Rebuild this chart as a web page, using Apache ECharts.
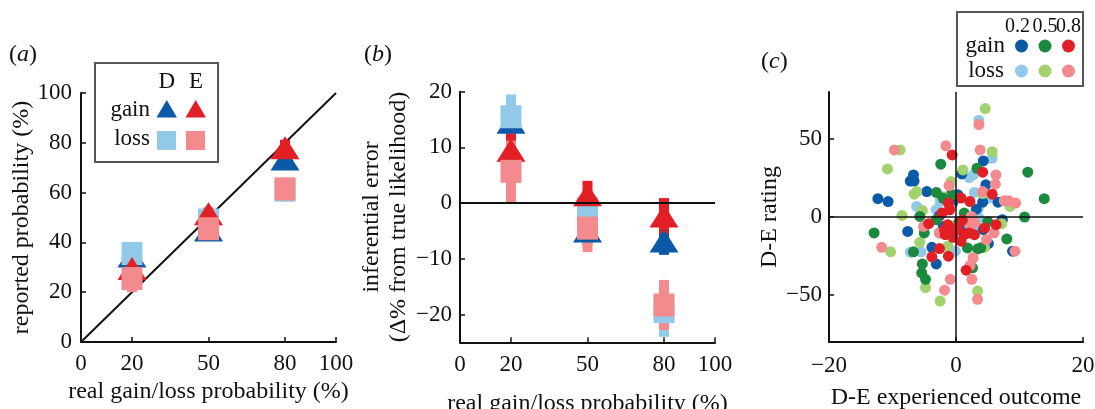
<!DOCTYPE html>
<html><head><meta charset="utf-8">
<script src="https://cdn.jsdelivr.net/npm/echarts@6/dist/echarts.min.js"></script>
<style>html,body{margin:0;padding:0;background:#fff}#c{width:1095px;height:409px}</style>
</head><body><div id="c"></div>
<script>
// ---------- data ----------
const probs = [20, 50, 80];
// panel (a): reported probability (%)
const aDGain = [34.5, 45, 73.5];
const aDLoss = [35.5, 49, 61];
const aEGain = [29.5, 51.5, 78];
const aELoss = [25.5, 45.5, 61.5];
// panel (b): inferential error (%)
const bDGain = [14.5, -5, -6.8];
const bDLoss = [15.5, -1, -19.5];
const bEGain = [9.5, 1.5, -2.3];
const bELoss = [5.7, -4.5, -18.3];
// error half-widths
const eDGain = [3, 2.5, 2.5];
const eDLoss = [4, 3, 4.5];
const eEGain = [3, 2.5, 3.2];
const eELoss = [5.5, 4.3, 4.5];
const probTicks = [0, 20, 50, 80, 100];
const errTicks = [-20, -10, 0, 10, 20];
const ratingTicks = [-50, 0, 50];
const identityLine = [[0, 0], [100, 100]];
// panel (c): [D-E experienced outcome, D-E rating]
const gain02 = [[-12.3,11.7],[-10.7,9.9],[-7.6,-9.2],[-6.7,26.9],[-7.2,23],[-6.6,23],[-4.6,16.3],[-3.8,-19.4],[-3.1,-30],[-0.8,14.2],[0.9,27.6],[4.3,35.9],[4.7,20.6],[6.6,9.5],[4.2,9.5],[7.3,-1.7],[4.3,-8.1],[5.1,-17],[8.9,-21.9],[-0.5,9.3],[-2.6,0.8],[0.3,14.2],[3.2,5],[-2,-6],[1.5,-6]];
const gain05 = [[-12.9,-10.2],[-5.7,0.4],[-5,-10.2],[-5.3,-30],[-5.4,-35.7],[-4.8,-39.9],[-2.4,33.8],[-3.1,15.7],[-3.1,-1.7],[-2.6,-10.2],[3.3,31.2],[11.3,28.7],[13.9,11.7],[10.8,0],[8,-14],[3.4,-20.4],[3.9,-19.7],[2.6,-32.5],[1.8,-19.8],[1.3,2.5],[-0.5,14.2],[-6.7,-22.3],[-2,12],[0.5,-3],[5,-3]];
const gain08 = [[-0.6,39.7],[4.2,28.7],[5.7,14.6],[0.8,12.1],[2.2,9.9],[-1.2,8.9],[-2.2,2.5],[-1,4.6],[-4.3,-4.3],[-1.3,-4.9],[-1.7,-11.3],[-0.6,-9.2],[0.3,-8.1],[1.3,-11.3],[2.1,-10.2],[2.9,-11.3],[0.8,-15.5],[0.1,-7],[4.5,-7],[6.3,-4.9],[-2.6,-20.2],[-3.8,-25.5],[-1.2,-25.1],[1.6,-34],[-1.8,-8],[1,-2],[-0.5,-13]];
const loss02 = [[3.6,62],[5.7,37.6],[2.1,25.2],[2.7,26.9],[2.9,15.7],[-6.2,6.8],[-3.1,4.7],[3.6,-0.6],[3.1,-4.9],[-7.2,-22.5],[-5.5,-22.3],[-0.1,-21.9],[-1,8],[3.5,5],[8.5,9],[5,12],[-2.5,10],[1.5,-1]];
const loss05 = [[4.6,69.4],[-8.8,42.9],[-10.8,30.8],[5.7,41.8],[1.1,30.1],[-6.6,14.6],[-6.2,16.3],[-5.3,4.2],[-8.5,1],[-0.8,22.7],[-5.7,-16.2],[-10.3,-22.3],[-4.8,-45.2],[-2.5,-53.8],[3.4,-47.4],[7.2,-4.3],[8.5,6.8],[-1.3,-18.7],[4.5,-19.5],[4.2,15],[-2,13],[0,-5]];
const loss08 = [[-9.7,42.9],[-1.6,45.6],[3.8,42.9],[3.6,59.2],[6.3,26.9],[6.2,21],[-1.1,20.1],[4.2,16.3],[7.6,10.4],[8.3,10.4],[9.4,8.9],[-5.1,-6],[-11.7,-19.4],[-2.6,-10.2],[2.4,0.4],[2.1,-4.9],[2.9,-3.8],[6,-10.2],[4.8,-14.5],[2.7,-26.1],[2.2,-31],[2.5,-39.9],[-0.9,-39.9],[-1.8,-46.8],[3.4,-52.7],[9.3,-21.9],[-1,6]];

// ---------- style ----------
const C = {dBlue:'#0b5aa8', red:'#e31f26', lBlue:'#92c8e8', pink:'#f28a8e', dGreen:'#1b8a3e', lGreen:'#a2d26e'};
const FONT = 'Liberation Serif';
const FS = 23, NFS = 24;
const minus = v => String(v).replace('-', '\u2212');
const axisLine = {show:true, onZero:false, lineStyle:{color:'#111', width:2}};
const axisTick = {show:true, inside:true, length:5, lineStyle:{color:'#111', width:1.5}};
const lbl = (m, extra) => Object.assign({color:'#111', fontFamily:FONT, fontSize:FS, margin:m, formatter:minus}, extra||{});
const nameStyle = {color:'#111', fontFamily:FONT, fontSize:NFS};

function errSeries(xi, xs, vals, errs, color, w) {
  return {
    type:'custom', xAxisIndex:xi, yAxisIndex:xi, silent:true,
    data: xs.map((x,i)=>[x, vals[i], errs[i]]),
    renderItem:(p, api)=>{
      const x=api.value(0), v=api.value(1), e=api.value(2);
      const t=api.coord([x, v+e]), b=api.coord([x, v-e]);
      return {type:'rect', shape:{x:t[0]-w/2, y:t[1], width:w, height:b[1]-t[1]}, style:{fill:color}};
    }
  };
}
function markSeries(xi, xs, vals, color, sym, size) {
  return {type:'scatter', xAxisIndex:xi, yAxisIndex:xi, silent:true, symbol:sym, symbolSize:size,
    itemStyle:{color:color, opacity:1}, data: xs.map((x,i)=>[x, vals[i]])};
}
function groupSeries(xi, D) {
  const out = [];
  D.forEach(g => { out.push(errSeries(xi, probs, g.v, g.e, g.c, 10)); out.push(markSeries(xi, probs, g.v, g.c, g.s, g.z)); });
  return out;
}
const TRI = [29, 23], SQ = [21, 23];
const groupsA = [
  {v:aDGain, e:eDGain, c:C.dBlue, s:'triangle', z:TRI},
  {v:aDLoss, e:eDLoss, c:C.lBlue, s:'rect', z:SQ},
  {v:aEGain, e:eEGain, c:C.red, s:'triangle', z:TRI},
  {v:aELoss, e:eELoss, c:C.pink, s:'rect', z:SQ}];
const groupsB = [
  {v:bDGain, e:eDGain, c:C.dBlue, s:'triangle', z:TRI},
  {v:bDLoss, e:eDLoss, c:C.lBlue, s:'rect', z:SQ},
  {v:bEGain, e:eEGain, c:C.red, s:'triangle', z:TRI},
  {v:bELoss, e:eELoss, c:C.pink, s:'rect', z:SQ}];

function dots(data, color) {
  return {type:'scatter', xAxisIndex:2, yAxisIndex:2, silent:true, symbolSize:11, itemStyle:{color:color, opacity:1}, data:data};
}

const chart = echarts.init(document.getElementById('c'));
const txt = (x, y, t, extra) => ({type:'text', x:x, y:y, silent:true, z:51, style:Object.assign({text:t, fill:'#111', font:FS+'px "'+FONT+'"', align:'center', verticalAlign:'middle'}, extra||{})});
const panelLbl = (x, y, letter) => ({type:'text', x:x, y:y, silent:true, style:{
  text:'{n|(}{i|'+letter+'}{n|)}', verticalAlign:'middle', align:'left',
  rich:{n:{fontFamily:FONT, fontSize:NFS, fill:'#111'}, i:{fontFamily:FONT, fontSize:NFS, fontStyle:'italic', fill:'#111'}}}});

chart.setOption({
  animation:false,
  grid:[
    {left:81, top:93, width:255, height:249, outerBoundsMode:'none', containLabel:false},
    {left:460, top:91.7, width:255, height:250.6, outerBoundsMode:'none', containLabel:false},
    {left:829, top:92, width:254, height:250, outerBoundsMode:'none', containLabel:false}
  ],
  xAxis:[
    {gridIndex:0, type:'value', min:0, max:100, axisLine, axisTick:Object.assign({customValues:probTicks}, axisTick),
     axisLabel:lbl(10,{customValues:probTicks}), splitLine:{show:false},
     name:'real gain/loss probability (%)', nameLocation:'middle', nameGap:33, nameTextStyle:nameStyle},
    {gridIndex:1, type:'value', min:0, max:100, axisLine, axisTick:Object.assign({customValues:probTicks}, axisTick),
     axisLabel:lbl(11,{customValues:probTicks}), splitLine:{show:false},
     name:'real gain/loss probability (%)', nameLocation:'middle', nameGap:49, nameTextStyle:nameStyle},
    {gridIndex:2, type:'value', min:-20, max:20, interval:20, axisLine, axisTick,
     axisLabel:lbl(12), splitLine:{show:false},
     name:'D-E experienced outcome', nameLocation:'middle', nameGap:44, nameTextStyle:nameStyle}
  ],
  yAxis:[
    {gridIndex:0, type:'value', min:0, max:100, interval:20, axisLine, axisTick, axisLabel:lbl(9), splitLine:{show:false},
     name:'reported probability (%)', nameLocation:'middle', nameGap:42, nameTextStyle:nameStyle},
    {gridIndex:1, type:'value', min:-25, max:20, axisLine, axisTick:Object.assign({customValues:errTicks}, axisTick),
     axisLabel:lbl(8,{customValues:errTicks}), splitLine:{show:false},
     name:'inferential error\n(\u0394% from true likelihood)', nameLocation:'middle', nameGap:46,
     nameTextStyle:Object.assign({lineHeight:27}, nameStyle)},
    {gridIndex:2, type:'value', min:-80, max:80, axisLine, axisTick:Object.assign({customValues:ratingTicks}, axisTick),
     axisLabel:lbl(7,{customValues:ratingTicks}), splitLine:{show:false},
     name:'D-E rating', nameLocation:'middle', nameGap:47, nameTextStyle:nameStyle}
  ],
  series:[
    {type:'line', xAxisIndex:0, yAxisIndex:0, data:identityLine, symbol:'none', silent:true, z:1,
     lineStyle:{color:'#111', width:2}},
    ...groupSeries(0, groupsA),
    {type:'line', xAxisIndex:1, yAxisIndex:1, data:[], silent:true,
     markLine:{silent:true, symbol:'none', label:{show:false}, lineStyle:{color:'#111', width:2, type:'solid'}, data:[{yAxis:0}]}},
    ...groupSeries(1, groupsB),
    {type:'line', xAxisIndex:2, yAxisIndex:2, data:[], silent:true,
     markLine:{silent:true, symbol:'none', label:{show:false}, lineStyle:{color:'#111', width:1.5, type:'solid'}, data:[{yAxis:0},{xAxis:0}]}},
    dots(loss02, C.lBlue), dots(gain02, C.dBlue), dots(loss05, C.lGreen), dots(gain05, C.dGreen),
    dots(loss08, C.pink), dots(gain08, C.red)
  ],
  graphic:[
    panelLbl(9, 55, 'a'), panelLbl(364, 55, 'b'), panelLbl(761, 62, 'c'),
    // legend (a)
    {type:'rect', shape:{x:95, y:63, width:123, height:99}, style:{fill:'#fff', stroke:'#555', lineWidth:2}, z:50},
    txt(166.7, 82, 'D'), txt(196, 82, 'E'),
    txt(150, 110, 'gain', {align:'right'}),
    txt(150, 139, 'loss', {align:'right'}),
    {type:'polygon', shape:{points:[[156.5,117.5],[177,117.5],[166.7,100]]}, style:{fill:C.dBlue}, z:51},
    {type:'polygon', shape:{points:[[185.5,117.5],[206,117.5],[195.7,100]]}, style:{fill:C.red}, z:51},
    {type:'rect', shape:{x:157, y:131, width:19, height:19}, style:{fill:C.lBlue}, z:51},
    {type:'rect', shape:{x:186, y:131, width:19, height:19}, style:{fill:C.pink}, z:51},
    // legend (c)
    {type:'rect', shape:{x:957, y:12, width:126, height:74}, style:{fill:'#fff', stroke:'#555', lineWidth:2}, z:50},
    txt(1017.5, 27, '0.2', {font:'20px "'+FONT+'"'}),
    txt(1045, 27, '0.5', {font:'20px "'+FONT+'"'}),
    txt(1068.5, 27, '0.8', {font:'20px "'+FONT+'"'}),
    txt(1005, 46, 'gain', {align:'right'}),
    txt(1004, 71, 'loss', {align:'right'}),
    {type:'circle', shape:{cx:1021.5, cy:46, r:6.5}, style:{fill:C.dBlue}, z:51},
    {type:'circle', shape:{cx:1045, cy:46, r:6.5}, style:{fill:C.dGreen}, z:51},
    {type:'circle', shape:{cx:1068.5, cy:46, r:6.5}, style:{fill:C.red}, z:51},
    {type:'circle', shape:{cx:1021.5, cy:71, r:6.5}, style:{fill:C.lBlue}, z:51},
    {type:'circle', shape:{cx:1045, cy:71, r:6.5}, style:{fill:C.lGreen}, z:51},
    {type:'circle', shape:{cx:1068.5, cy:71, r:6.5}, style:{fill:C.pink}, z:51}
  ]
});
</script></body></html>
